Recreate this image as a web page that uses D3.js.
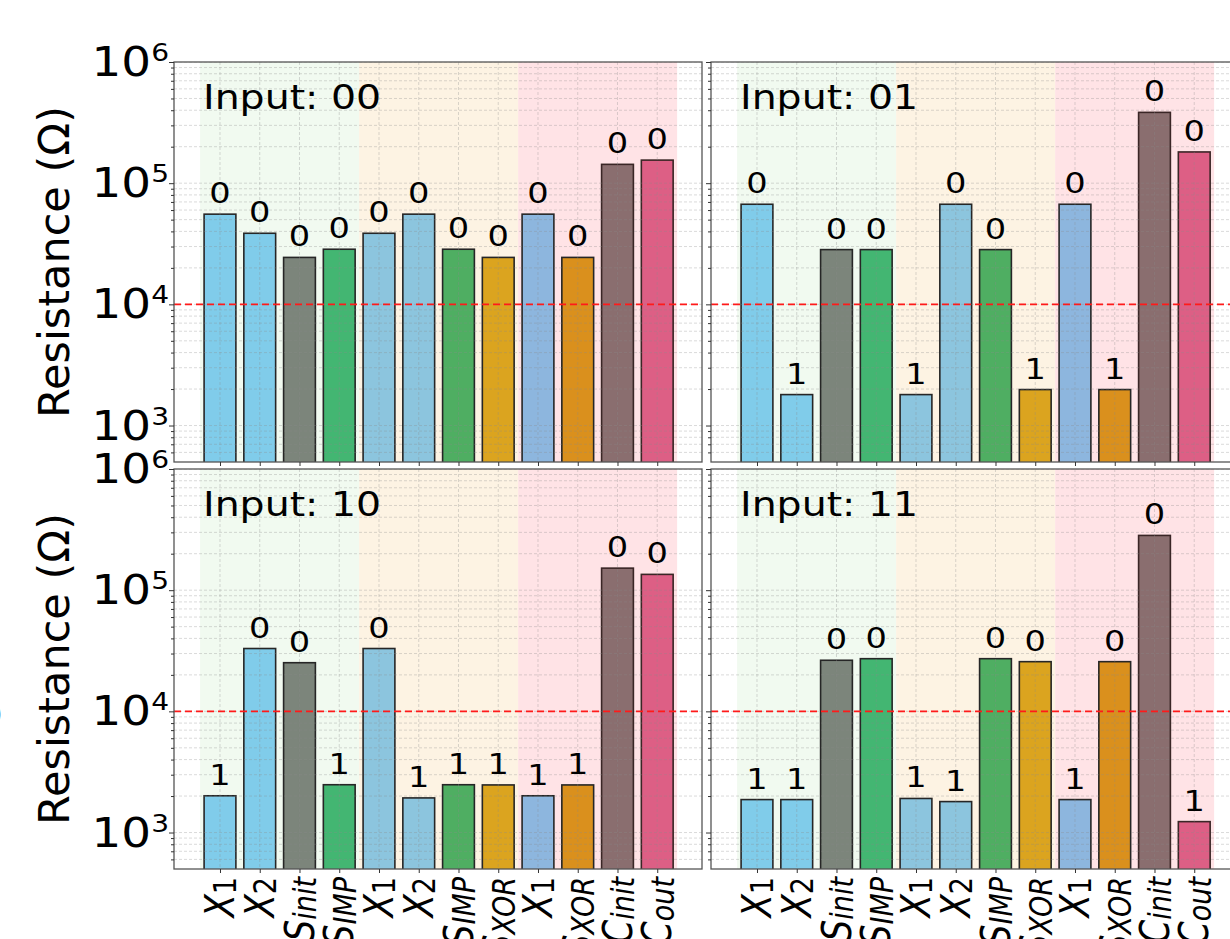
<!DOCTYPE html>
<html>
<head>
<meta charset="utf-8">
<script src="https://cdn.jsdelivr.net/npm/d3@7"></script>
<style>
  body { margin: 0; background: #fff; overflow: hidden; }
  text { font-family: "DejaVu Sans", sans-serif; fill: #000; }
</style>
</head>
<body>
<svg id="chart" width="1230" height="939"></svg>
<script>
// bar names (main letter + subscript), one per step
const tickMain = ["X", "X", "S", "S", "X", "X", "S", "S", "X", "S", "C", "C"];
const tickSub = ["1", "2", "init", "IMP", "1", "2", "IMP", "XOR", "1", "XOR", "init", "out"];

// resistance (ohm)
const res00 = [55500, 38600, 24400, 28500, 38600, 55500, 28500, 24400, 55500, 24400, 143000, 155000];
const res01 = [67000, 1800, 28300, 28300, 1800, 67000, 28300, 1980, 67000, 1980, 384000, 181000];
const res10 = [2010, 33000, 25200, 2480, 33000, 1930, 2480, 2470, 2010, 2470, 152000, 135000];
const res11 = [1870, 1870, 26400, 27200, 1910, 1800, 27200, 25700, 1870, 25700, 283000, 1230];

// logic state printed above each bar
const bits00 = [0, 0, 0, 0, 0, 0, 0, 0, 0, 0, 0, 0];
const bits01 = [0, 1, 0, 0, 1, 0, 0, 1, 0, 1, 0, 0];
const bits10 = [1, 0, 0, 1, 0, 1, 1, 1, 1, 1, 0, 0];
const bits11 = [1, 1, 0, 0, 1, 1, 0, 0, 1, 0, 0, 1];

const inputs = ["00", "01", "10", "11"];
const barColors = ["#80ccea", "#80ccea", "#7c857b", "#43b672", "#8cc5de", "#8cc5de",
                   "#4fae62", "#dba41f", "#8db6de", "#da901d", "#8a6e6f", "#dd5f85"];
const groupSpans = [[-0.5, 3.5], [3.5, 7.5], [7.5, 11.5]];
const spanColors = ["#f1faf0", "#fdf3e3", "#ffe3e6"];
const threshold = 1e4;
const yMajor = [1e3, 1e4, 1e5, 1e6];
const yMinor = [];
[100, 1000, 10000, 100000].forEach(b => d3.range(2, 10).forEach(m => {
  if (m * b > 500 && m * b < 1e6) yMinor.push(m * b);
}));

const panels = [
  { input: inputs[0], res: res00, bits: bits00 },
  { input: inputs[1], res: res01, bits: bits01 },
  { input: inputs[2], res: res10, bits: bits10 },
  { input: inputs[3], res: res11, bits: bits11 }
];

const W = 528, H = 400;
const lefts = [174, 711], tops = [62, 469];
const svg = d3.select("#chart");

panels.forEach((p, k) => {
  const col = k % 2, row = Math.floor(k / 2);
  const x0 = lefts[col], y0 = tops[row];
  const x = d3.scaleLinear().domain([-1.157, 12.126]).range([x0, x0 + W]);
  const y = d3.scaleLog().domain([500, 1e6]).range([y0 + H, y0]);
  const g = svg.append("g");

  g.append("clipPath").attr("id", "clip" + k)
    .append("rect").attr("x", x0).attr("y", y0).attr("width", W).attr("height", H);
  const plot = g.append("g").attr("clip-path", `url(#clip${k})`);

  plot.append("rect").attr("x", x0).attr("y", y0).attr("width", W).attr("height", H).attr("fill", "#fff");

  plot.selectAll(".span").data(groupSpans).join("rect")
    .attr("x", d => x(d[0])).attr("width", d => x(d[1]) - x(d[0]))
    .attr("y", y0).attr("height", H)
    .attr("fill", (d, i) => spanColors[i]);

  // bars
  const bw = x(0.8) - x(0);
  plot.selectAll(".bar").data(p.res).join("rect")
    .attr("x", (d, i) => x(i) - bw / 2)
    .attr("width", bw)
    .attr("y", d => y(d))
    .attr("height", d => y0 + H - y(d) + 2)
    .attr("fill", (d, i) => barColors[i])
    .attr("stroke", (d, i) => i >= 10 ? "#3a2626" : "#262626")
    .attr("stroke-width", 1.6);

  // grid over everything, faint
  const grid = plot.append("g").attr("stroke", "#8a8a8a").attr("stroke-opacity", 0.4)
    .attr("stroke-width", 0.8).attr("stroke-dasharray", "3,2");
  grid.selectAll(".hg").data(yMajor.concat(yMinor)).join("line")
    .attr("x1", x0).attr("x2", x0 + W).attr("y1", d => y(d)).attr("y2", d => y(d));
  grid.selectAll(".vg").data(d3.range(12)).join("line")
    .attr("x1", d => x(d)).attr("x2", d => x(d)).attr("y1", y0).attr("y2", y0 + H);

  // threshold
  plot.append("line")
    .attr("x1", x0).attr("x2", x0 + W).attr("y1", y(threshold)).attr("y2", y(threshold))
    .attr("stroke", "#ff1a1a").attr("stroke-width", 1.6).attr("stroke-dasharray", "7,4");

  // spines
  g.append("rect").attr("x", x0).attr("y", y0).attr("width", W).attr("height", H)
    .attr("fill", "none").attr("stroke", "#555").attr("stroke-width", 1.3);

  // ticks
  const yAx = g.append("g").attr("transform", `translate(${x0},0)`)
    .call(d3.axisLeft(y).tickValues(yMajor).tickSize(5).tickFormat(""));
  const yAxMin = g.append("g").attr("transform", `translate(${x0},0)`)
    .call(d3.axisLeft(y).tickValues(yMinor).tickSize(3).tickFormat(""));
  const xAx = g.append("g").attr("transform", `translate(0,${y0 + H})`)
    .call(d3.axisBottom(x).tickValues(d3.range(12)).tickSize(4).tickFormat(""));
  [yAx, yAxMin, xAx].forEach(a => {
    a.select(".domain").remove();
    a.selectAll("line").attr("stroke", "#333").attr("stroke-width", 1);
  });

  // value bits
  g.selectAll(".bit").data(p.res).join("text")
    .attr("transform", (d, i) => `translate(${x(i)},${y(d) - 11}) scale(1.2,1)`)
    .attr("text-anchor", "middle").attr("font-size", 28)
    .text((d, i) => p.bits[i]);

  // panel title
  g.append("text")
    .attr("transform", `translate(${x0 + 29},${y0 + 46.5}) scale(1.16,1)`)
    .attr("font-size", 34)
    .text("Input: " + p.input);

  // y tick labels on left column
  if (col === 0) {
    yMajor.forEach((v, i) => {
      const t = g.append("text")
        .attr("transform", `translate(169,${y(v) + 14}) scale(1.17,1)`)
        .attr("text-anchor", "end").attr("font-size", 40);
      t.append("tspan").text("10");
      t.append("tspan").attr("font-size", 24).attr("dy", -15).text(String(Math.round(Math.log10(v))));
    });
    g.append("text")
      .attr("transform", `translate(69,${y0 + H / 2}) rotate(-90)`)
      .attr("text-anchor", "middle").attr("font-size", 43)
      .text("Resistance (\u03A9)");
  }

  // x tick labels on bottom row (cut by the page edge, as in the figure)
  if (row === 1) {
    d3.range(12).forEach(i => {
      const t = g.append("text")
        .attr("transform", `translate(${x(i)},877) scale(1.18,1) rotate(-90)`)
        .attr("y", 11.9)
        .attr("text-anchor", "end");
      t.append("tspan").attr("font-size", 34).attr("font-style", "italic").text(tickMain[i]);
      t.append("tspan").attr("font-size", 27).attr("dy", 2)
        .attr("font-style", /^\d+$/.test(tickSub[i]) ? "normal" : "italic")
        .text(tickSub[i]);
    });
  }
});

// edge of a glyph from a neighbouring figure, cut at the left border
svg.append("text").attr("x", -9).attr("y", 724).attr("font-size", 30).text(")");
</script>
</body>
</html>
